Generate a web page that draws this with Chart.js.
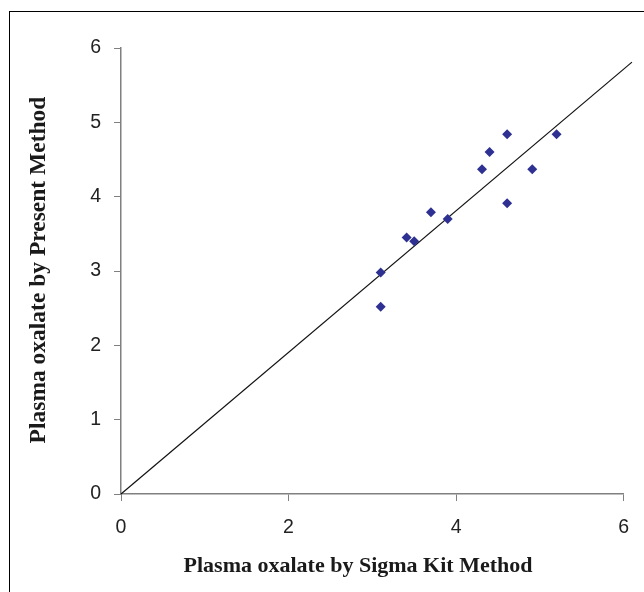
<!DOCTYPE html>
<html>
<head>
<meta charset="utf-8">
<script src="https://cdn.jsdelivr.net/npm/chart.js@4"></script>
<style>
    html, body { margin: 0; padding: 0; background: #fff; }
    #wrap { position: relative; width: 644px; height: 592px; overflow: hidden; }
    #frame { position: absolute; left: 9px; top: 11px; width: 700px; height: 700px;
             border-left: 1px solid #000; border-top: 1px solid #000; }
    canvas { position: absolute; left: 0; top: 0; }
</style>
</head>
<body>
<div id="wrap">
    <div id="frame"></div>
    <canvas id="scatter" width="644" height="592"></canvas>
</div>
<script>
// readings (mmol/L)
const sigmaKit = [3.1, 3.1, 3.41, 3.5, 3.7, 3.9, 4.31, 4.4, 4.61, 4.61, 4.91, 5.2];
const presentMethod = [2.52, 2.98, 3.45, 3.4, 3.79, 3.7, 4.37, 4.6, 4.84, 3.91, 4.37, 4.84];

// the straight line drawn through the cloud
const fitX = [0, 6.1];
const fitY = [0, 5.81];

const xTicks = [0, 2, 4, 6];
const yTicks = [0, 1, 2, 3, 4, 5, 6];

const xTitle = 'Plasma oxalate by Sigma Kit Method';
const yTitle = 'Plasma oxalate by Present Method';

const points = sigmaKit.map((v, i) => ({ x: v, y: presentMethod[i] }));
const fitLine = fitX.map((v, i) => ({ x: v, y: fitY[i] }));

const tickFont = { family: "'Liberation Sans', Arial, sans-serif", size: 19.5 };
const serif = "'Liberation Serif', 'Times New Roman', serif";

// axis titles are not centred on the plot in the original, so place them by hand
const axisTitles = {
    id: 'axisTitles',
    afterDraw(chart) {
        const ctx = chart.ctx;
        ctx.save();
        ctx.fillStyle = '#1a1a1a';
        ctx.textAlign = 'center';
        ctx.textBaseline = 'middle';
        ctx.font = 'bold 22px ' + serif;
        ctx.fillText(xTitle, 358, 566);
        ctx.translate(39, 270);
        ctx.rotate(-Math.PI / 2);
        ctx.font = 'bold 23.5px ' + serif;
        ctx.fillText(yTitle, 0, 0);
        ctx.restore();
    }
};

new Chart(document.getElementById('scatter'), {
    type: 'scatter',
    data: {
        datasets: [
            {
                label: 'Samples',
                data: points,
                pointStyle: 'rectRot',
                pointRadius: 5,
                backgroundColor: '#2E3192',
                borderColor: '#2E3192',
                borderWidth: 0
            },
            {
                type: 'line',
                label: 'Line',
                data: fitLine,
                borderColor: '#111',
                borderWidth: 1.2,
                pointRadius: 0,
                fill: false,
                clip: false
            }
        ]
    },
    options: {
        responsive: false,
        animation: false,
        events: [],
        layout: { padding: { left: 0, top: 48, right: 20, bottom: 0 } },
        plugins: {
            legend: { display: false },
            tooltip: { enabled: false }
        },
        scales: {
            x: {
                type: 'linear',
                min: 0,
                max: 6,
                afterBuildTicks: (scale) => { scale.ticks = xTicks.map(v => ({ value: v })); },
                afterFit: (scale) => { scale.height = 98; },
                border: { color: '#808080', width: 1.5 },
                grid: { drawOnChartArea: false, tickLength: 7, color: '#808080' },
                ticks: { font: tickFont, color: '#222', padding: 15, maxRotation: 0 }
            },
            y: {
                type: 'linear',
                min: 0,
                max: 6,
                afterBuildTicks: (scale) => { scale.ticks = yTicks.map(v => ({ value: v })); },
                afterFit: (scale) => { scale.width = 121; },
                border: { color: '#808080', width: 1.5 },
                grid: { drawOnChartArea: false, tickLength: 7, color: '#808080' },
                ticks: { font: tickFont, color: '#222', padding: 13 }
            }
        }
    },
    plugins: [axisTitles]
});
</script>
</body>
</html>
